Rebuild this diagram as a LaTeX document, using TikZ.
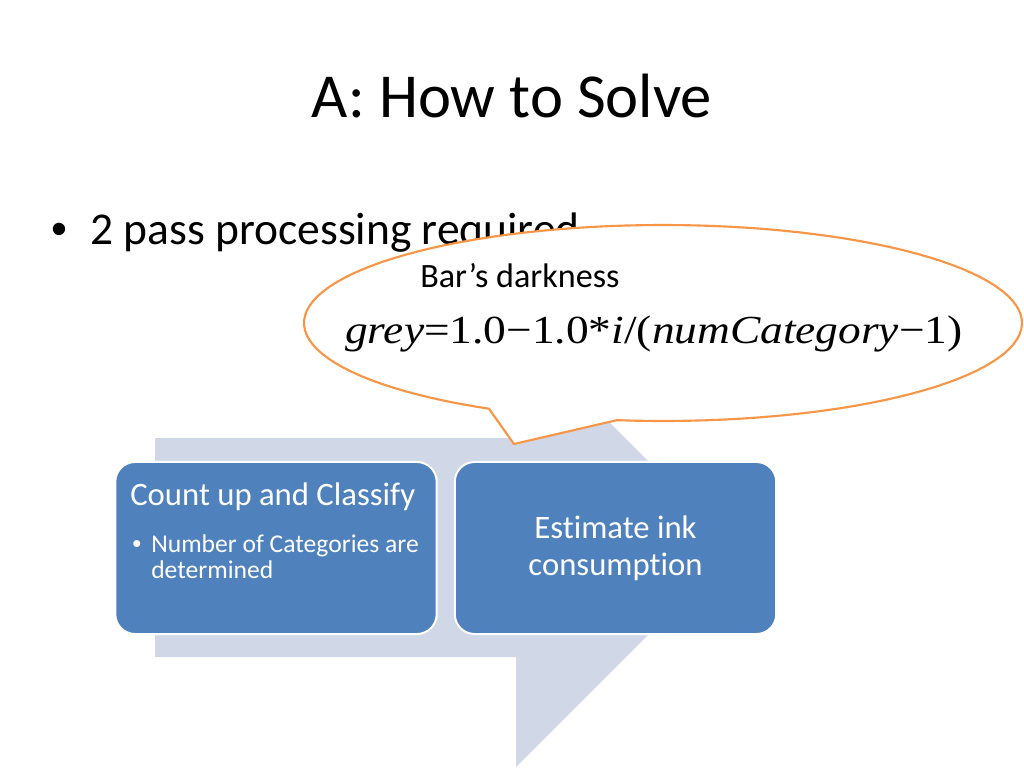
\documentclass[tikz,border=0pt]{standalone}
\usepackage{fontspec}
\setmainfont{Carlito}[Ligatures=NoCommon]
\newfontfamily\eqfont{Liberation Serif}[FakeStretch=1.14]
\newfontfamily\dotfont{Liberation Sans}
\usetikzlibrary{positioning}
\definecolor{ink}{HTML}{000000}
\definecolor{boxblue}{HTML}{4F81BD}
\definecolor{bandfill}{HTML}{D0D8E8}
\definecolor{balloon}{HTML}{F79646}

\begin{document}
\begin{tikzpicture}[
  x=0.703125pt, y=-0.703125pt,
  stage/.style={draw=white, line width=1.4pt, fill=boxblue, rounded corners=14pt,
                minimum width=226pt, minimum height=121pt, inner sep=0pt,
                text=white, align=center, font=\fontsize{23}{26}\selectfont},
  stagehead/.style={text=white, inner sep=0pt, font=\fontsize{23}{26}\selectfont},
  stageitem/.style={text=white, inner sep=0pt, font=\fontsize{18}{21}\selectfont},
  slidetext/.style={text=ink, inner sep=0pt},
  callout/.style={draw=balloon, line width=1.5pt, fill=white, line join=miter}
]
\useasboundingbox (0,0) rectangle (1024,768);

% title and bullet
\node[slidetext, anchor=base, font=\fontsize{44}{52}\selectfont] (title) at (512,118) {A: How to Solve};
\node[slidetext, anchor=base west, font=\dotfont\fontsize{32}{38}\selectfont] (dot) at (51,245) {•};
\node[slidetext, anchor=base west, font=\fontsize{32}{38}\selectfont] (pass) at (90,245) {2 pass processing required};

% process arrow behind the stages
\fill[bandfill] (155,438) -- (516,438) -- (516,329) -- (735,548) -- (516,767)
  -- (516,657) -- (155,657) -- cycle;

% stages
\node[stage] (count) at (276,548) {};
\node[stage] (estimate) at (615.5,548) {Estimate ink\\consumption};

\node[stagehead, anchor=base west] (countTitle) at (130,505) {Count up and Classify};
\node[stageitem, anchor=base west, font=\dotfont\fontsize{18}{21}\selectfont] (countDot) at (132,552) {•};
\node[stageitem, anchor=base west] (countItem) at (151,552) {Number of Categories are};
\node[stageitem, anchor=base west] (countItemB) at (151,578) {determined};

% speech balloon
\draw[callout] plot[domain=119:457.4, samples=120] ({663+359*cos(\x)}, {323+98*sin(\x)})
  -- (514,444) -- cycle;
\node[slidetext, anchor=base west, font=\fontsize{24}{28}\selectfont] (bar) at (420,287) {Bar’s darkness};
\node[slidetext, anchor=base west, font=\eqfont\fontsize{28}{34}\selectfont] (grey) at (345,344)
  {\itshape grey\upshape=1.0−1.0*\itshape i\upshape/(\itshape numCategory\upshape−1)};

\end{tikzpicture}
\end{document}
